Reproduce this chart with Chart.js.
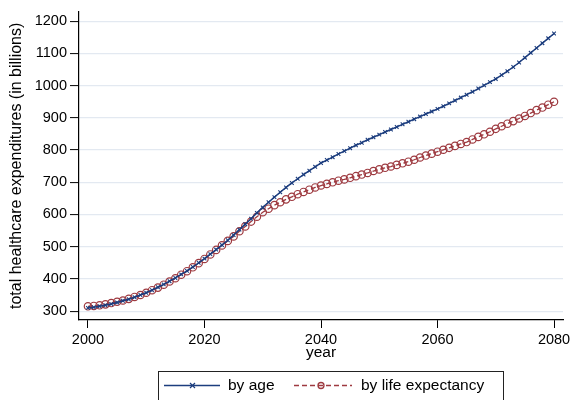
<!DOCTYPE html>
<html>
<head>
<meta charset="utf-8">
<script src="https://cdn.jsdelivr.net/npm/chart.js@4"></script>
<style>
  html, body { margin: 0; padding: 0; background: #fff; }
  canvas { display: block; }
</style>
</head>
<body>
<canvas id="chart" width="572" height="400"></canvas>
<script>
// years 2000..2080
const years = [];
for (let y = 2000; y <= 2080; y++) years.push(y);

// total healthcare expenditures, projected by age
const byAge = [
  310, 312, 315, 318, 322, 327, 332, 337, 343, 350,
  357, 365, 374, 383, 393, 403, 414, 425, 437, 450,
  463, 477, 491, 505, 520, 536, 553, 570, 587, 605,
  622, 638, 654, 669, 684, 698, 711, 724, 736, 748,
  760, 769, 778, 788, 797, 806, 815, 823, 832, 840,
  848, 856, 864, 872, 880, 888, 896, 904, 912, 920,
  928, 936, 945, 954, 963, 972, 981, 991, 1001, 1011,
  1021, 1033, 1045, 1058, 1072, 1087, 1102, 1117, 1132, 1147,
  1162
];

// projected by life expectancy
const byLifeExp = [
  315, 316, 318, 321, 325, 329, 333, 338, 344, 350,
  357, 365, 373, 382, 392, 402, 413, 424, 436, 449,
  462, 476, 490, 504, 518, 532, 548, 563, 578, 593,
  607, 618, 629, 638, 647, 655, 663, 670, 677, 684,
  690, 695, 700, 705, 709, 714, 719, 724, 729, 735,
  740, 745, 749, 754, 759, 764, 770, 777, 783, 789,
  795, 801, 807, 813, 819, 825, 833, 841, 849, 857,
  866, 874, 882, 890, 898, 906, 915, 924, 932, 941,
  950
];

const xTicks = [2000, 2020, 2040, 2060, 2080];
const yTicks = [300, 400, 500, 600, 700, 800, 900, 1000, 1100, 1200];

const seriesNames = ['by age', 'by life expectancy'];
const NAVY = '#1c3d7e';
const MAROON = '#9e3a40';
const FONT = '"Liberation Sans", Arial, Helvetica, sans-serif';

// legend in a framed box under the plot, like the original
const boxLegend = {
  id: 'boxLegend',
  afterDraw(chart) {
    const ctx = chart.ctx;
    ctx.save();
    ctx.strokeStyle = '#222';
    ctx.lineWidth = 1;
    ctx.strokeRect(158.5, 371.5, 345, 34);

    const y = 385.5;
    ctx.font = '15.5px ' + FONT;
    ctx.textBaseline = 'middle';
    ctx.fillStyle = '#000';

    // by age
    ctx.strokeStyle = NAVY;
    ctx.lineWidth = 1.5;
    ctx.beginPath(); ctx.moveTo(164, y); ctx.lineTo(220, y); ctx.stroke();
    ctx.lineWidth = 1.2;
    ctx.beginPath();
    ctx.moveTo(190, y - 2.5); ctx.lineTo(195, y + 2.5);
    ctx.moveTo(195, y - 2.5); ctx.lineTo(190, y + 2.5);
    ctx.stroke();
    ctx.fillText(seriesNames[0], 228, y);

    // by life expectancy
    ctx.strokeStyle = MAROON;
    ctx.lineWidth = 1.3;
    ctx.setLineDash([5, 3]);
    ctx.beginPath(); ctx.moveTo(294, y); ctx.lineTo(352, y); ctx.stroke();
    ctx.setLineDash([]);
    ctx.beginPath(); ctx.arc(321, y, 3, 0, Math.PI * 2); ctx.stroke();
    ctx.fillText(seriesNames[1], 361, y);
    ctx.restore();
  }
};

new Chart(document.getElementById('chart'), {
  type: 'line',
  data: {
    datasets: [
      {
        label: seriesNames[0],
        data: years.map((yr, i) => ({ x: yr, y: byAge[i] })),
        borderColor: NAVY,
        borderWidth: 1.5,
        pointStyle: 'crossRot',
        pointRadius: 2.6,
        pointBorderColor: NAVY,
        pointBorderWidth: 1.1,
        tension: 0
      },
      {
        label: seriesNames[1],
        data: years.map((yr, i) => ({ x: yr, y: byLifeExp[i] })),
        borderColor: MAROON,
        borderWidth: 1.3,
        borderDash: [5, 3],
        pointStyle: 'circle',
        pointRadius: 3.7,
        pointBorderColor: MAROON,
        pointBackgroundColor: 'rgba(255,255,255,0)',
        pointBorderWidth: 1.2,
        tension: 0
      }
    ]
  },
  options: {
    responsive: false,
    devicePixelRatio: 1,
    animation: false,
    layout: { padding: { top: 8, right: 9, bottom: 38, left: 0 } },
    plugins: {
      legend: { display: false },
      tooltip: { enabled: false }
    },
    scales: {
      x: {
        type: 'linear',
        min: 1998.46,
        max: 2081.54,
        afterBuildTicks: s => { s.ticks = xTicks.map(v => ({ value: v })); },
        afterFit: s => { s.height = 42; s.paddingLeft = 0; s.paddingRight = 0; },
        grid: { drawOnChartArea: false, tickLength: 8, tickColor: '#000', tickWidth: 1 },
        border: { color: '#000', width: 1.2 },
        ticks: { color: '#000', font: { family: FONT, size: 14.5 }, padding: 3, maxRotation: 0, autoSkip: false, callback: v => String(v) },
        title: { display: true, text: 'year', color: '#000', font: { family: FONT, size: 15.5 }, padding: { top: 0, bottom: 0 } }
      },
      y: {
        type: 'linear',
        min: 272.4,
        max: 1229.7,
        afterBuildTicks: s => { s.ticks = yTicks.map(v => ({ value: v })); },
        afterFit: s => { s.width = 79; },
        grid: { color: '#e3e9f1', lineWidth: 1.2, tickLength: 9, tickColor: '#000', tickWidth: 1 },
        border: { color: '#000', width: 1.2 },
        ticks: { color: '#000', font: { family: FONT, size: 14.5 }, padding: 3, callback: v => String(v) },
        title: { display: true, text: 'total healthcare expenditures (in billions)', color: '#000', font: { family: FONT, size: 16 }, padding: { top: 7, bottom: 0 } }
      }
    }
  },
  plugins: [boxLegend]
});
</script>
</body>
</html>
